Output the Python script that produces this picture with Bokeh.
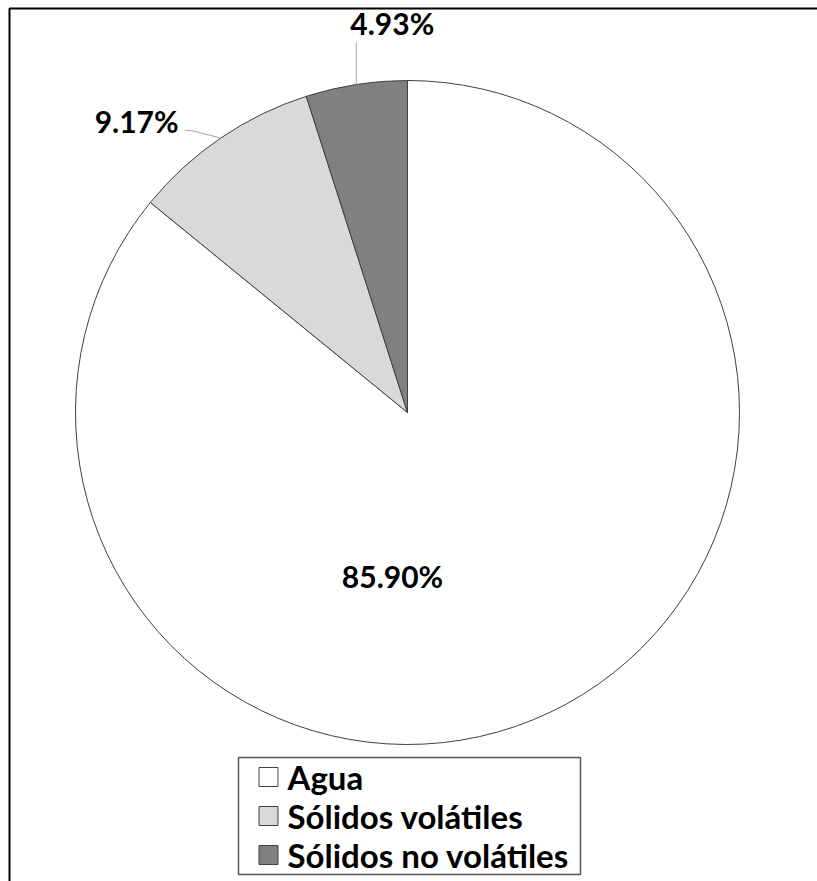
import numpy as np
from bokeh.plotting import figure
from bokeh.models import ColumnDataSource, Range1d, BoxAnnotation
from bokeh.core.properties import value
from bokeh.embed import file_html
from bokeh.resources import INLINE

# ---- data ----
categories = ["Agua", "Sólidos volátiles", "Sólidos no volátiles"]
percentages = [85.90, 9.17, 4.93]
colors = ["#ffffff", "#d9d9d9", "#808080"]

# ---- layout ----
W, H = 817, 881
FONT = "Lato"

p = figure(width=W, height=H, x_range=Range1d(0, W), y_range=Range1d(0, H),
           output_backend="svg", toolbar_location=None, min_border=0)
p.axis.visible = False
p.grid.visible = False
p.outline_line_color = None
p.background_fill_color = "white"
p.border_fill_color = "white"

# outer frame (top and left edges visible)
p.add_layout(BoxAnnotation(left=9, right=W + 20, top=H - 8, bottom=-20,
                           fill_alpha=0, line_color="black", line_alpha=1,
                           line_width=2, level="underlay"))

cx, cy, r = 407, H - 412, 332
frac = np.array(percentages) / np.sum(percentages)
cum = np.concatenate([[0.0], np.cumsum(frac)])
start = np.pi / 2 - 2 * np.pi * cum[:-1]
end = np.pi / 2 - 2 * np.pi * cum[1:]
mid = (start + end) / 2

src = ColumnDataSource(dict(start=start, end=end, color=colors, label=categories))
p.wedge(x=cx, y=cy, radius=r, start_angle="start", end_angle="end",
        direction="clock", fill_color="color", line_color="#404040",
        line_width=1, source=src)

# ---- data labels ----
arc_x = cx + r * np.cos(mid)
arc_y = cy + r * np.sin(mid)
label_text = [f"{v:.2f}%" for v in percentages]

# Agua label inside the pie
lx = [cx - 15]
ly = [cy - 163]
# Sólidos volátiles: leader line from arc to the left
lead1_x = [arc_x[1], arc_x[1] - 27, arc_x[1] - 36]
lead1_y = [arc_y[1], arc_y[1] + 7, arc_y[1] + 8]
p.line(lead1_x, lead1_y, line_color="#a6a6a6", line_width=1)
lx.append(arc_x[1] - 84)
ly.append(arc_y[1] + 17)
# Sólidos no volátiles: vertical leader above
p.line([arc_x[2], arc_x[2]], [arc_y[2], arc_y[2] + 42], line_color="#a6a6a6", line_width=1)
lx.append(arc_x[2] + 36)
ly.append(arc_y[2] + 61)

p.text(x=lx, y=ly, text=label_text, text_font=value(FONT), text_font_style="bold",
       text_font_size="30px", text_align="center", text_baseline="middle",
       text_color="black")

# ---- legend (drawn manually) ----
leg_left, leg_right, leg_top, leg_bottom = 238, 580, H - 757, H - 874
p.quad(left=[leg_left], right=[leg_right], top=[leg_top], bottom=[leg_bottom],
       fill_color="white", line_color="#595959", line_width=1.5)
row_h = (leg_top - leg_bottom) / len(categories)
row_y = [leg_top - (i + 0.5) * row_h for i in range(len(categories))]
p.rect(x=[268] * len(categories), y=row_y, width=19, height=19,
       fill_color=colors, line_color="#404040", line_width=1)
p.text(x=[287] * len(categories), y=row_y, text=categories, text_font=value(FONT),
       text_font_style="bold", text_font_size="33px", text_align="left",
       text_baseline="middle", text_color="black")

open("out.html", "w").write(file_html(p, INLINE))
